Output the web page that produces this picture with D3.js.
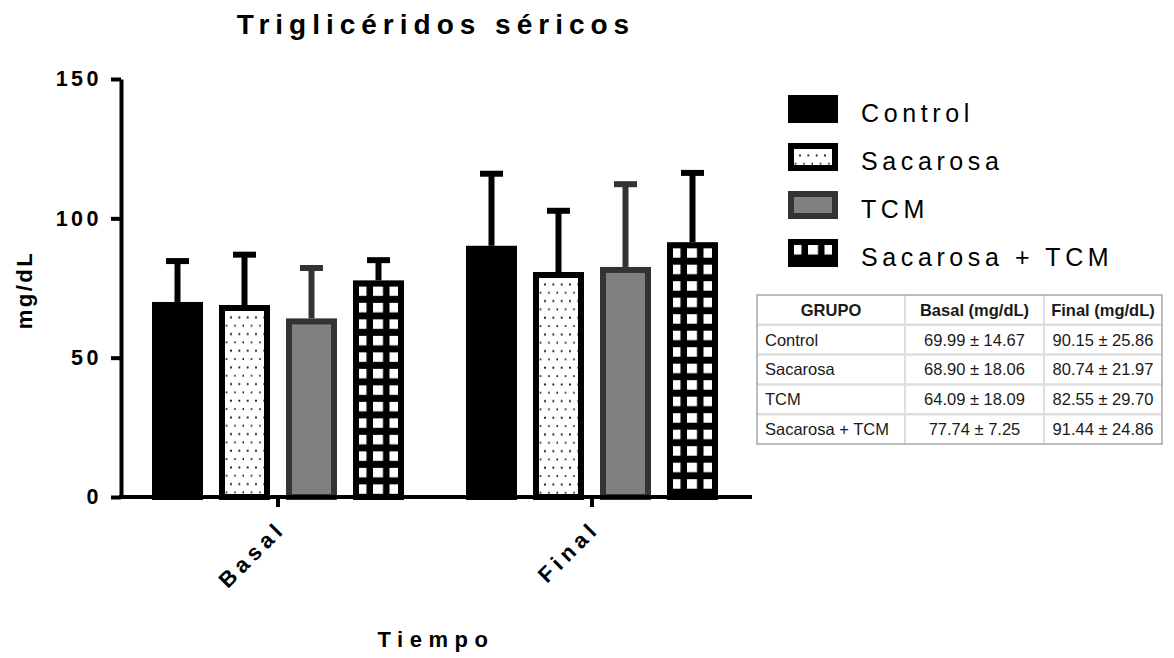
<!DOCTYPE html>
<html>
<head>
<meta charset="utf-8">
<script src="https://cdn.jsdelivr.net/npm/d3@7"></script>
<style>
  body { margin: 0; background: #fff; }
  svg { display: block; }
  text { font-family: "Liberation Sans", Arial, sans-serif; }
</style>
</head>
<body>
<svg id="chart" width="1174" height="658"></svg>
<script>
// ---- data ----
const times = ["Basal", "Final"];
const groups = ["Control", "Sacarosa", "TCM", "Sacarosa + TCM"];
const basalMean = [69.99, 68.90, 64.09, 77.74];
const basalSD = [14.67, 18.06, 18.09, 7.25];
const finalMean = [90.15, 80.74, 82.55, 91.44];
const finalSD = [25.86, 21.97, 29.70, 24.86];
const yTicks = [0, 50, 100, 150];
const tableHeader = ["GRUPO", "Basal (mg/dL)", "Final (mg/dL)"];

// ---- layout ----
const svg = d3.select("#chart");
const W = 1174, H = 658;
svg.append("rect").attr("width", W).attr("height", H).attr("fill", "#fff");

const axisLeftX = 121, plotTop = 79, baseY = 497;
const y = d3.scaleLinear().domain([0, 150]).range([baseY, plotTop]);
const x0 = d3.scaleBand().domain(times).range([121, 749]);
const groupSpan = 268;
const x1 = d3.scaleBand().domain(groups).range([0, groupSpan])
  .paddingInner(16 / 67).paddingOuter(8 / 67);

const rows = times.flatMap((t, ti) => groups.map((g, gi) => ({
  time: t, group: g, gi, ti,
  mean: (ti === 0 ? basalMean : finalMean)[gi],
  sd: (ti === 0 ? basalSD : finalSD)[gi]
})));
rows.forEach(d => {
  d.x = x0(d.time) + x0.bandwidth() / 2 - groupSpan / 2 + x1(d.group);
  d.w = x1.bandwidth();
  d.y = y(d.mean);
  d.h = y(0) - y(d.mean);
});

const defs = svg.append("defs");
const BORDER = 6;
const FONT = '"Liberation Sans", Arial, sans-serif';

// dotted fill anchored to the rectangle's top-left corner
function dotPattern(id, ox, oy) {
  const p = defs.append("pattern").attr("id", id)
    .attr("patternUnits", "userSpaceOnUse")
    .attr("x", ox).attr("y", oy)
    .attr("width", 8.33).attr("height", 16.67);
  p.append("rect").attr("width", 8.33).attr("height", 16.67).attr("fill", "#fff");
  p.append("rect").attr("x", 3.67 - 0.9).attr("y", 12.4 - 0.9).attr("width", 1.8).attr("height", 1.8).attr("fill", "#000");
  p.append("rect").attr("x", 7.83 - 0.9).attr("y", 4.07 - 0.9).attr("width", 1.8).attr("height", 1.8).attr("fill", "#000");
  return `url(#${id})`;
}
// black lattice with white squares anchored to the rectangle's corner
function gridPattern(id, ox, oy) {
  const p = defs.append("pattern").attr("id", id)
    .attr("patternUnits", "userSpaceOnUse")
    .attr("x", ox + 3.5).attr("y", oy + BORDER)
    .attr("width", 16.5).attr("height", 16.5);
  p.append("rect").attr("width", 16.5).attr("height", 16.5).attr("fill", "#000");
  p.append("rect").attr("width", 10).attr("height", 9.5).attr("fill", "#fff");
  return `url(#${id})`;
}

function styleFor(group, key, bx, by) {
  if (group === "Control") return { fill: "#000", stroke: "#000" };
  if (group === "Sacarosa") return { fill: dotPattern("dots-" + key, bx, by), stroke: "#000" };
  if (group === "TCM") return { fill: "#808080", stroke: "#333" };
  return { fill: gridPattern("grid-" + key, bx, by), stroke: "#000" };
}

// ---- bars ----
const barG = svg.append("g");
rows.forEach((d, i) => {
  const st = styleFor(d.group, "bar" + i, d.x, d.y);
  d.stroke = st.stroke;
  barG.append("rect")
    .attr("x", d.x + BORDER / 2).attr("y", d.y + BORDER / 2)
    .attr("width", d.w - BORDER).attr("height", d.h - BORDER / 2)
    .attr("fill", st.fill)
    .attr("stroke", st.stroke).attr("stroke-width", BORDER);
});

// ---- error bars (upper only) ----
const errG = svg.append("g");
rows.forEach(d => {
  const cx = d.x + d.w / 2;
  const top = y(d.mean + d.sd);
  errG.append("line").attr("x1", cx).attr("x2", cx)
    .attr("y1", d.y).attr("y2", top)
    .attr("stroke", d.stroke).attr("stroke-width", 6);
  errG.append("line").attr("x1", cx - 11.5).attr("x2", cx + 11.5)
    .attr("y1", top).attr("y2", top)
    .attr("stroke", d.stroke).attr("stroke-width", 6);
});

// ---- axes ----
const yAxis = svg.append("g").attr("transform", `translate(${axisLeftX},0)`)
  .call(d3.axisLeft(y).tickValues(yTicks).tickSize(10).tickSizeOuter(0).tickPadding(9));
yAxis.select(".domain").attr("stroke", "#000").attr("stroke-width", 4);
yAxis.selectAll(".tick line").attr("stroke", "#000").attr("stroke-width", 4);
yAxis.selectAll(".tick text")
  .attr("fill", "#000").attr("font-size", 21.5).attr("font-weight", "bold")
  .attr("letter-spacing", 3.5).attr("font-family", FONT);

const xAxis = svg.append("g").attr("transform", `translate(0,${baseY})`)
  .call(d3.axisBottom(x0).tickSize(10).tickSizeOuter(0));
xAxis.select(".domain").attr("stroke", "#000").attr("stroke-width", 4)
  .attr("d", `M${axisLeftX - 2},0H752`);
xAxis.selectAll(".tick line").attr("stroke", "#000").attr("stroke-width", 4);
xAxis.selectAll(".tick text")
  .attr("fill", "#000").attr("font-size", 22).attr("font-weight", "bold")
  .attr("letter-spacing", 5).attr("font-family", FONT)
  .attr("text-anchor", "end").attr("dy", null).attr("y", null)
  .attr("transform", "translate(9,33) rotate(-45)");

// ---- titles ----
svg.append("text").attr("x", 436).attr("y", 34)
  .attr("text-anchor", "middle").attr("font-size", 28).attr("font-weight", "bold")
  .attr("letter-spacing", 6).text("Triglicéridos séricos");

svg.append("text").attr("x", 436).attr("y", 647)
  .attr("text-anchor", "middle").attr("font-size", 22).attr("font-weight", "bold")
  .attr("letter-spacing", 6.5).text("Tiempo");

svg.append("text").attr("transform", "translate(32,290) rotate(-90)")
  .attr("text-anchor", "middle").attr("font-size", 22).attr("font-weight", "bold")
  .attr("letter-spacing", 2.5).text("mg/dL");

// ---- legend ----
const legend = svg.append("g");
groups.forEach((g, i) => {
  const sx = 788, sy = 95 + i * 48, sw = 50, sh = 28;
  const st = styleFor(g, "leg" + i, sx, sy);
  legend.append("rect")
    .attr("x", sx + BORDER / 2).attr("y", sy + BORDER / 2)
    .attr("width", sw - BORDER).attr("height", sh - BORDER)
    .attr("fill", st.fill).attr("stroke", st.stroke).attr("stroke-width", BORDER);
  legend.append("text").attr("x", 861).attr("y", sy + 27)
    .attr("font-size", 25).attr("letter-spacing", 4.6).attr("fill", "#000")
    .text(g);
});

// ---- summary table ----
const table = svg.append("g");
const colX = [757, 905, 1044, 1162];
const tRows = d3.scaleBand().domain(["header", ...groups]).range([295, 444]);
const fmt = (m, s) => `${m.toFixed(2)} ± ${s.toFixed(2)}`;
const cells = [tableHeader].concat(groups.map((g, gi) => [
  g, fmt(basalMean[gi], basalSD[gi]), fmt(finalMean[gi], finalSD[gi])
]));

table.append("rect").attr("x", colX[0]).attr("y", 295)
  .attr("width", colX[3] - colX[0]).attr("height", 149)
  .attr("fill", "#fff");
// inner grid
tRows.domain().slice(1).forEach(k => {
  table.append("line").attr("x1", colX[0]).attr("x2", colX[3])
    .attr("y1", tRows(k)).attr("y2", tRows(k))
    .attr("stroke", "#dedede").attr("stroke-width", 2.5);
});
[colX[1], colX[2]].forEach(cx => {
  table.append("line").attr("x1", cx).attr("x2", cx)
    .attr("y1", 295).attr("y2", 444)
    .attr("stroke", "#dedede").attr("stroke-width", 2);
});
table.append("rect").attr("x", colX[0]).attr("y", 295)
  .attr("width", colX[3] - colX[0]).attr("height", 149)
  .attr("fill", "none").attr("stroke", "#a6a6a6").attr("stroke-width", 1.5);

cells.forEach((row, ri) => {
  const key = tRows.domain()[ri];
  const cy = tRows(key) + tRows.bandwidth() / 2;
  row.forEach((txt, ci) => {
    const header = ri === 0;
    const left = !header && ci === 0;
    table.append("text")
      .attr("x", left ? colX[0] + 8 : (colX[ci] + colX[ci + 1]) / 2)
      .attr("y", cy).attr("dy", "0.36em")
      .attr("text-anchor", left ? "start" : "middle")
      .attr("font-size", 16.5)
      .attr("font-weight", header ? "bold" : "normal")
      .attr("fill", "#1a1a1a")
      .text(txt);
  });
});
</script>
</body>
</html>
